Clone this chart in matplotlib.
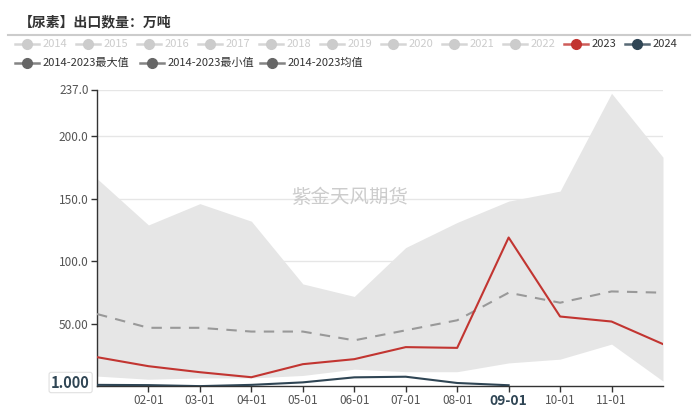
# %%
import matplotlib
matplotlib.use("Agg")
import matplotlib.pyplot as plt
from matplotlib.lines import Line2D
from matplotlib.transforms import offset_copy
import numpy as np

plt.rcParams["font.family"] = ["Noto Sans CJK SC", "DejaVu Sans"]

# %%
months = ["01-01", "02-01", "03-01", "04-01", "05-01", "06-01",
          "07-01", "08-01", "09-01", "10-01", "11-01", "12-01"]
max_vals = [166, 129, 146, 132, 82, 72, 111, 131, 148, 156, 234, 183]
min_vals = [8.5, 6, 7, 7, 9, 14, 12, 12, 19, 22, 34, 4.5]
mean_vals = [58, 47, 47, 44, 44, 37, 45, 53, 75, 67, 76, 75]
y2023 = [23.6, 16.4, 11.6, 7.6, 18, 22, 31.6, 31, 119, 56, 52, 34]
y2024 = [1.5, 1.3, 0.5, 1.5, 3.5, 7.5, 8, 3, 1.2]
y_ticks = [50, 100, 150, 200, 237]
y_tick_labels = ["50.00", "100.0", "150.0", "200.0", "237.0"]

legend_years = ["2014", "2015", "2016", "2017", "2018", "2019",
                "2020", "2021", "2022", "2023", "2024"]
legend_stats = ["2014-2023最大值", "2014-2023最小值", "2014-2023均值"]

RED = "#c23531"
NAVY = "#2f4554"
W, H = 700, 408

# %%
fig = plt.figure(figsize=(W / 100, H / 100), dpi=100)
ax = fig.add_axes([97 / W, 1 - 385.5 / H, (663 - 97) / W, (385.5 - 89.5) / H])

x = np.arange(len(months))
ax.fill_between(x, min_vals, max_vals, color="#e6e6e6", lw=0, zorder=1)
ax.plot(x, mean_vals, color="#999999", lw=1.5, dashes=(5, 4), zorder=3)
ax.plot(x, y2023, color=RED, lw=1.5, zorder=4)
ax.plot(x[:len(y2024)], y2024, color=NAVY, lw=1.5, zorder=5)

ax.set_xlim(0, 11)
ax.set_ylim(1, 237)
ax.set_yticks(y_ticks)
ax.set_yticklabels(y_tick_labels)
ax.set_xticks(x[1:11])
ax.set_xticklabels(months[1:11])
ax.tick_params(axis="both", labelsize=8.5, colors="#333333", labelcolor="#555555",
               length=4, width=1)
ax.tick_params(axis="y", pad=2)
ax.tick_params(axis="x", pad=2)
for lbl in ax.get_xticklabels():
    if lbl.get_text() == "09-01":
        lbl.set_fontweight("bold")
        lbl.set_fontsize(10)
        lbl.set_color(NAVY)

ax.grid(axis="y", color="#e6e6e6", lw=1, zorder=0)
ax.set_axisbelow(True)
for s in ["top", "right"]:
    ax.spines[s].set_visible(False)
for s in ["left", "bottom"]:
    ax.spines[s].set_color("#333333")
    ax.spines[s].set_linewidth(1)

# pointer label on the y axis
ptr = offset_copy(ax.get_yaxis_transform(), fig=fig, x=-7, y=3, units="dots")
ax.text(0, 1, "1.000", transform=ptr, ha="right",
        va="center", fontsize=10.5, fontweight="bold", color=NAVY,
        bbox=dict(boxstyle="round,pad=0.15", fc="white", ec="#e0e0e0", lw=0.8),
        zorder=10, clip_on=False)

# watermark
fig.text(350 / W, 1 - 197 / H, "紫金天风期货", ha="center", va="center",
         fontsize=14, color="#cccccc")

# title and separator
fig.text(19 / W, 1 - 22 / H, "【尿素】出口数量：万吨", ha="left", va="center",
         fontsize=10, fontweight="bold", color="#333333")
fig.add_artist(Line2D([8 / W, 690 / W], [1 - 35 / H, 1 - 35 / H],
                      color="#cccccc", lw=1.5))


# %%
def legend_item(cx, cy, label, color, text_color):
    fx, fy = cx / W, 1 - cy / H
    fig.add_artist(Line2D([(cx - 12) / W, (cx + 12) / W], [fy, fy],
                          color=color, lw=1.8, alpha=0.8))
    fig.add_artist(Line2D([fx], [fy], marker="o", markersize=7,
                          color=color, lw=0))
    fig.text((cx + 16) / W, fy, label, ha="left", va="center",
             fontsize=8, color=text_color)


for i, yr in enumerate(legend_years):
    if yr == "2023":
        c, tc = RED, "#333333"
    elif yr == "2024":
        c, tc = NAVY, "#333333"
    else:
        c, tc = "#cccccc", "#cccccc"
    legend_item(27 + 61 * i, 44, yr, c, tc)

for cx, lab in zip([27, 152, 272], legend_stats):
    legend_item(cx, 63, lab, "#666666", "#333333")

# %%
fig.savefig("out.png", dpi=100)
